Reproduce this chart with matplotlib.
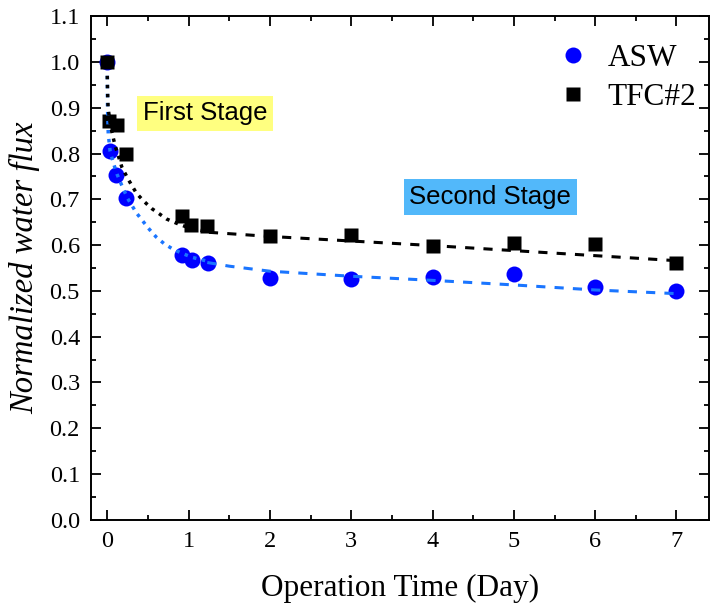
import matplotlib
matplotlib.use('Agg')
import matplotlib.pyplot as plt
from matplotlib.lines import Line2D
from matplotlib.ticker import MultipleLocator, FormatStrFormatter

# measured points (day, normalized flux)
asw_day = [0, 0.03, 0.103, 0.226, 0.92, 1.04, 1.24, 2, 3, 4, 5, 6, 7]
asw_flux = [1.0, 0.806, 0.753, 0.702, 0.578, 0.568, 0.560, 0.528, 0.527, 0.530, 0.536, 0.508, 0.499]

tfc_day = [0, 0.02, 0.115, 0.226, 0.92, 1.03, 1.23, 2, 3, 4, 5, 6, 7]
tfc_flux = [1.0, 0.872, 0.862, 0.799, 0.664, 0.643, 0.642, 0.621, 0.622, 0.599, 0.605, 0.603, 0.560]

# fitted trend lines
asw_fit1_day = [0, 0.003, 0.012, 0.035, 0.074, 0.12, 0.177, 0.25, 0.36, 0.505, 0.6, 0.7, 0.8, 0.92, 1.05, 1.23]
asw_fit1_flux = [0.97, 0.90, 0.843, 0.805, 0.78, 0.755, 0.731, 0.702, 0.670, 0.637, 0.618, 0.603, 0.592, 0.582, 0.573, 0.565]
asw_fit2_day = [1.23, 1.5, 2, 3, 4, 5, 6, 7]
asw_fit2_flux = [0.562, 0.554, 0.543, 0.532, 0.523, 0.513, 0.502, 0.494]

tfc_fit1_day = [0, 0.003, 0.01, 0.04, 0.095, 0.18, 0.26, 0.36, 0.455, 0.546, 0.627, 0.73, 0.85, 1.0, 1.25]
tfc_fit1_flux = [0.97, 0.941, 0.90, 0.86, 0.818, 0.77, 0.743, 0.713, 0.695, 0.680, 0.670, 0.657, 0.648, 0.638, 0.628]
tfc_fit2_day = [1.25, 1.5, 2, 3, 4, 5, 6, 7]
tfc_fit2_flux = [0.628, 0.625, 0.619, 0.609, 0.599, 0.588, 0.577, 0.566]

line_blue = '#1a75ff'
serif = 'Liberation Serif'
sans = 'Liberation Sans'

fig = plt.figure(figsize=(7.1, 6.08), dpi=100)
ax = fig.add_axes([0.1282, 0.1452, 0.8704, 0.828])

ax.plot(asw_day, asw_flux, 'o', color='#0000ff', ms=11.5, mec='none', zorder=2)
ax.plot(tfc_day, tfc_flux, 's', color='black', ms=9.5, mec='none', zorder=2)

ax.plot(asw_fit1_day, asw_fit1_flux, color=line_blue, lw=2.5, ls=(0, (1, 1.6)), zorder=3)
ax.plot(asw_fit2_day, asw_fit2_flux, color=line_blue, lw=2.2, ls=(0, (3, 3)), zorder=3)
ax.plot(tfc_fit1_day, tfc_fit1_flux, color='black', lw=2.5, ls=(0, (1, 1.6)), zorder=3)
ax.plot(tfc_fit2_day, tfc_fit2_flux, color='black', lw=2.2, ls=(0, (3, 3)), zorder=3)

ax.text(1.2, 0.888, 'First Stage', family=sans, fontsize=18.5, ha='center', va='center',
        bbox=dict(boxstyle='square,pad=0.22', fc='#ffff80', ec='none'))
ax.text(4.71, 0.705, 'Second Stage', family=sans, fontsize=18.5, ha='center', va='center',
        bbox=dict(boxstyle='square,pad=0.22', fc='#52b8fa', ec='none'))

ax.set_xlim(-0.2, 7.4)
ax.set_ylim(0, 1.1)
ax.xaxis.set_major_locator(MultipleLocator(1))
ax.xaxis.set_minor_locator(MultipleLocator(0.5))
ax.yaxis.set_major_locator(MultipleLocator(0.1))
ax.yaxis.set_minor_locator(MultipleLocator(0.05))
ax.yaxis.set_major_formatter(FormatStrFormatter('%.1f'))

ax.tick_params(which='both', direction='in', top=True, right=True, width=1.3)
ax.tick_params(which='major', length=7, labelsize=17.5, pad=8)
ax.tick_params(which='minor', length=3.5)
for lab in ax.get_xticklabels() + ax.get_yticklabels():
    lab.set_family(serif)
for s in ax.spines.values():
    s.set_linewidth(1.4)

ax.set_xlabel('Operation Time (Day)', family=serif, fontsize=22.5, labelpad=16)
ax.set_ylabel('Normalized water flux', family=serif, style='italic', fontsize=23.5, labelpad=7)

handles = [Line2D([], [], marker='o', ls='none', color='#0000ff', mec='none', ms=11.5),
           Line2D([], [], marker='s', ls='none', color='black', mec='none', ms=9.5)]
ax.legend(handles, ['ASW', 'TFC#2'], loc='upper right', frameon=False,
          prop=dict(family=serif, size=22.5), handlelength=1.2, handletextpad=0.5,
          labelspacing=0.3, bbox_to_anchor=(1.025, 1.0))

fig.savefig('out.png', dpi=100)
